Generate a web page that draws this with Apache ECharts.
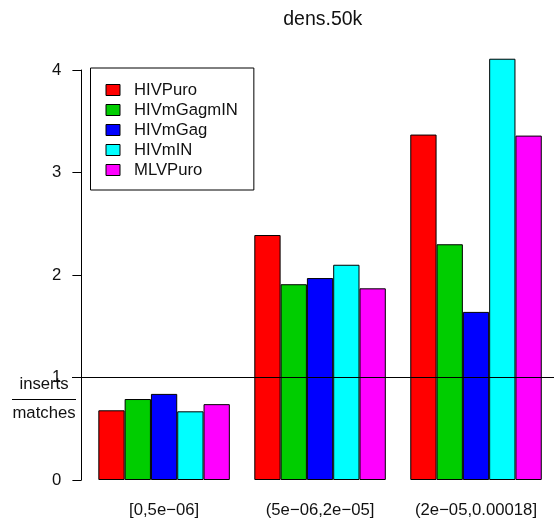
<!DOCTYPE html>
<html>
<head>
<meta charset="utf-8">
<script src="https://cdn.jsdelivr.net/npm/echarts@6/dist/echarts.min.js"></script>
<style>
  html, body { margin: 0; padding: 0; background: #fff; }
  #chart { width: 554px; height: 521px; }
</style>
</head>
<body>
<div id="chart"></div>
<script>
// Ratio of inserts to matches, by density bin, for each vector
const categories = ['[0,5e\u221206]', '(5e\u221206,2e\u221205]', '(2e\u221205,0.00018]'];
const seriesNames = ['HIVPuro', 'HIVmGagmIN', 'HIVmGag', 'HIVmIN', 'MLVPuro'];
const seriesColors = ['#FF0000', '#00CD00', '#0000FF', '#00FFFF', '#FF00FF'];
const HIVPuro    = [0.68, 2.39, 3.37];
const HIVmGagmIN = [0.79, 1.91, 2.30];
const HIVmGag    = [0.84, 1.97, 1.64];
const HIVmIN     = [0.67, 2.10, 4.11];
const MLVPuro    = [0.74, 1.87, 3.36];
const yTicks = [0, 1, 2, 3, 4];
const titleText = 'dens.50k';

const seriesValues = [HIVPuro, HIVmGagmIN, HIVmGag, HIVmIN, MLVPuro];
const FONT = '"Liberation Sans", Arial, Helvetica, sans-serif';
const TXT = '#111';

const chart = echarts.init(document.getElementById('chart'), null, { renderer: 'canvas' });

const series = seriesNames.map((name, i) => ({
  name: name,
  type: 'bar',
  data: seriesValues[i],
  barWidth: 26.3,
  barGap: '0%',
  clip: false,
  itemStyle: { color: seriesColors[i], borderColor: '#000', borderWidth: 1 },
  emphasis: { disabled: true }
}));

// reference line at ratio 1, running across the whole plot
series[0].markLine = {
  silent: true,
  symbol: 'none',
  animation: false,
  label: { show: false },
  lineStyle: { color: '#000', width: 1, type: 'solid' },
  data: [[{ x: 72, yAxis: 1 }, { x: 554, yAxis: 1 }]]
};

chart.setOption({
  animation: false,
  backgroundColor: '#fff',
  title: {
    text: titleText,
    left: 317.8,
    top: 5,
    textAlign: 'center',
    textStyle: { fontFamily: FONT, fontSize: 19.5, fontWeight: 'normal', color: TXT }
  },
  legend: {
    orient: 'vertical',
    left: 90.5,
    top: 68,
    padding: [12, 16, 10, 15],
    itemGap: 0,
    itemWidth: 14,
    itemHeight: 11,
    icon: 'rect',
    borderColor: '#000',
    borderWidth: 1,
    borderRadius: 0,
    selectedMode: false,
    itemStyle: { borderColor: '#000', borderWidth: 1 },
    textStyle: { fontFamily: FONT, fontSize: 16.7, color: TXT, lineHeight: 20, padding: [0, 0, 0, 9] },
    data: seriesNames
  },
  grid: { left: 86.1, top: 70, width: 473.8, height: 410, containLabel: false },
  xAxis: {
    type: 'category',
    data: categories,
    axisLine: { show: false },
    axisTick: { show: false },
    splitLine: { show: false },
    axisLabel: { fontFamily: FONT, fontSize: 16.7, color: TXT, margin: 22, interval: 0 }
  },
  yAxis: {
    type: 'value',
    min: yTicks[0],
    max: yTicks[yTicks.length - 1],
    interval: 1,
    offset: 4.7,
    axisLine: { show: true, lineStyle: { color: '#000', width: 1 } },
    axisTick: { show: true, length: 9, lineStyle: { color: '#000', width: 1 } },
    splitLine: { show: false },
    axisLabel: { fontFamily: FONT, fontSize: 16.7, color: TXT, margin: 20 }
  },
  graphic: [
    { type: 'text', x: 44, y: 384, style: { text: 'inserts', font: '16.7px ' + FONT, fill: TXT, textAlign: 'center', textVerticalAlign: 'middle' } },
    { type: 'line', shape: { x1: 12, y1: 399.5, x2: 76, y2: 399.5 }, style: { stroke: '#000', lineWidth: 1 } },
    { type: 'text', x: 44, y: 413.5, style: { text: 'matches', font: '16.7px ' + FONT, fill: TXT, textAlign: 'center', textVerticalAlign: 'middle' } }
  ],
  series: series
});
</script>
</body>
</html>
